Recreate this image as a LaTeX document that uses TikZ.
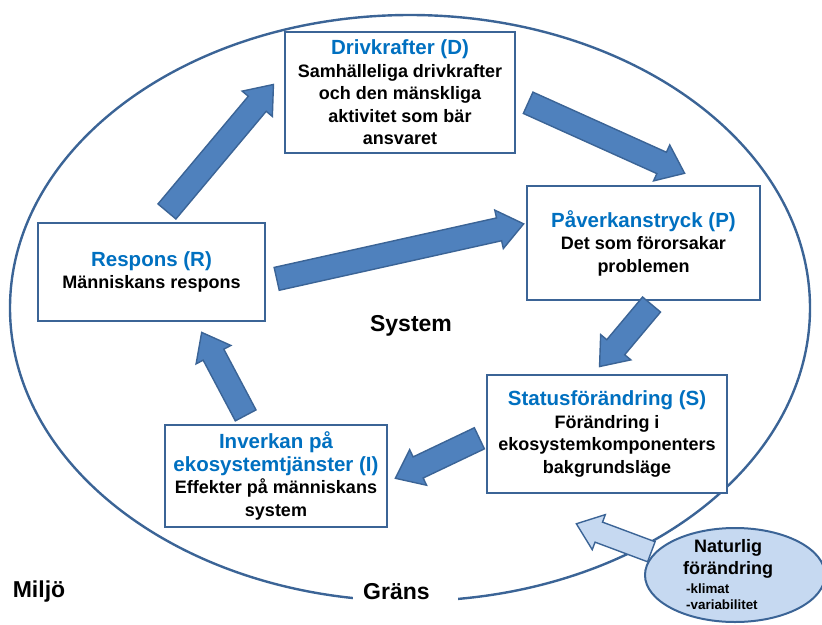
\documentclass[tikz,border=0pt]{standalone}
\usepackage{fontspec}
\setmainfont{Liberation Sans}
\usetikzlibrary{arrows.meta, positioning, shapes.geometric, shapes.arrows, calc}

\definecolor{frame}{HTML}{3B6496}
\definecolor{arrowfill}{HTML}{4F81BD}
\definecolor{titleblue}{HTML}{0070C0}
\definecolor{nature}{HTML}{C6D9F1}

% blue heading line inside a box
\newcommand{\ttl}[1]{{\fontsize{20.5}{23}\selectfont\color{titleblue}#1}}
% block arrow from tail coordinate to tip coordinate
\newcommand{\blockarrow}[3][]{%
  \path let \p1=($(#3)-(#2)$), \n1={veclen(\x1,\y1)}, \n2={atan2(\y1,\x1)} in
    node[barrow, #1, minimum height=\n1, rotate=\n2, anchor=tail] at (#2) {};}

\begin{document}
\begin{tikzpicture}[
        x=1pt, y=-1pt,
        font=\fontsize{18}{22.5}\selectfont\bfseries,
        box/.style={draw=frame, line width=2.2pt, fill=white, inner sep=0pt, align=center},
        barrow/.style={single arrow, draw=frame, line width=1.4pt, fill=arrowfill,
            inner xsep=0pt, inner ysep=11pt, minimum width=0pt,
            single arrow head extend=8pt, single arrow tip angle=76},
        biglabel/.style={font=\fontsize{23}{26}\selectfont\bfseries, inner sep=0pt}
    ]
    \useasboundingbox (0,0) rectangle (822,624);

    % System boundary
    \draw[frame, line width=2.4pt] (410,308) ellipse [x radius=400, y radius=293];
    \node[biglabel, fill=white, anchor=west, inner xsep=10pt, inner ysep=3pt,
        text width=85pt, align=left] (grans) at (353,592) {Gräns};
    \node[biglabel] (miljo) at (39,592) {Miljö};
    \node[biglabel] (system) at (411,326) {System};

    % DPSIR boxes
    \node[box, minimum width=230, minimum height=121] (D) at (400,92.5)
        {\ttl{Drivkrafter (D)}\\ Samhälleliga drivkrafter\\ och den mänskliga\\ aktivitet som bär\\ ansvaret};
    \node[box, minimum width=233, minimum height=114] (P) at (643.5,243)
        {\ttl{Påverkanstryck (P)}\\ Det som förorsakar\\ problemen};
    \node[box, minimum width=240, minimum height=118] (S) at (607,434)
        {\ttl{Statusförändring (S)}\\ Förändring i\\ ekosystemkomponenters\\ bakgrundsläge};
    \node[box, minimum width=222, minimum height=102] (I) at (276,476)
        {\ttl{Inverkan på}\\ \ttl{ekosystemtjänster (I)}\\ Effekter på människans\\ system};
    \node[box, minimum width=227, minimum height=98] (R) at (151.5,272)
        {\ttl{Respons (R)}\\ Människans respons};

    % Arrow ends
    \coordinate (rd-tail) at (166.5,212);  \coordinate (rd-tip) at (273,85);
    \coordinate (dp-tail) at (527.5,102.5); \coordinate (dp-tip) at (684,173);
    \coordinate (rp-tail) at (276,279);    \coordinate (rp-tip) at (523,224);
    \coordinate (ps-tail) at (652,304);    \coordinate (ps-tip) at (600,366);
    \coordinate (si-tail) at (480,438);    \coordinate (si-tip) at (396,478);
    \coordinate (ir-tail) at (246,416);    \coordinate (ir-tip) at (202,333);
    \coordinate (ns-tail) at (652,552);    \coordinate (ns-tip) at (577,524);

    % Cycle arrows
    \blockarrow{rd-tail}{rd-tip}
    \blockarrow{dp-tail}{dp-tip}
    \blockarrow{rp-tail}{rp-tip}
    \blockarrow{ps-tail}{ps-tip}
    \blockarrow{si-tail}{si-tip}
    \blockarrow{ir-tail}{ir-tip}

    % Natural change
    \blockarrow[fill=nature, inner ysep=10pt]{ns-tail}{ns-tip}
    \node[ellipse, draw=frame, line width=2pt, fill=nature, minimum width=180, minimum height=94] (nat) at (735,575) {};
    \node[inner sep=0pt, align=center] (natname) at (728,559) {Naturlig\\ förändring};
    \node[inner sep=0pt, align=left, anchor=north west, font=\fontsize{13.4}{16}\selectfont\bfseries]
        (natlist) at (686,584) {-klimat\\ -variabilitet};

\end{tikzpicture}
\end{document}
